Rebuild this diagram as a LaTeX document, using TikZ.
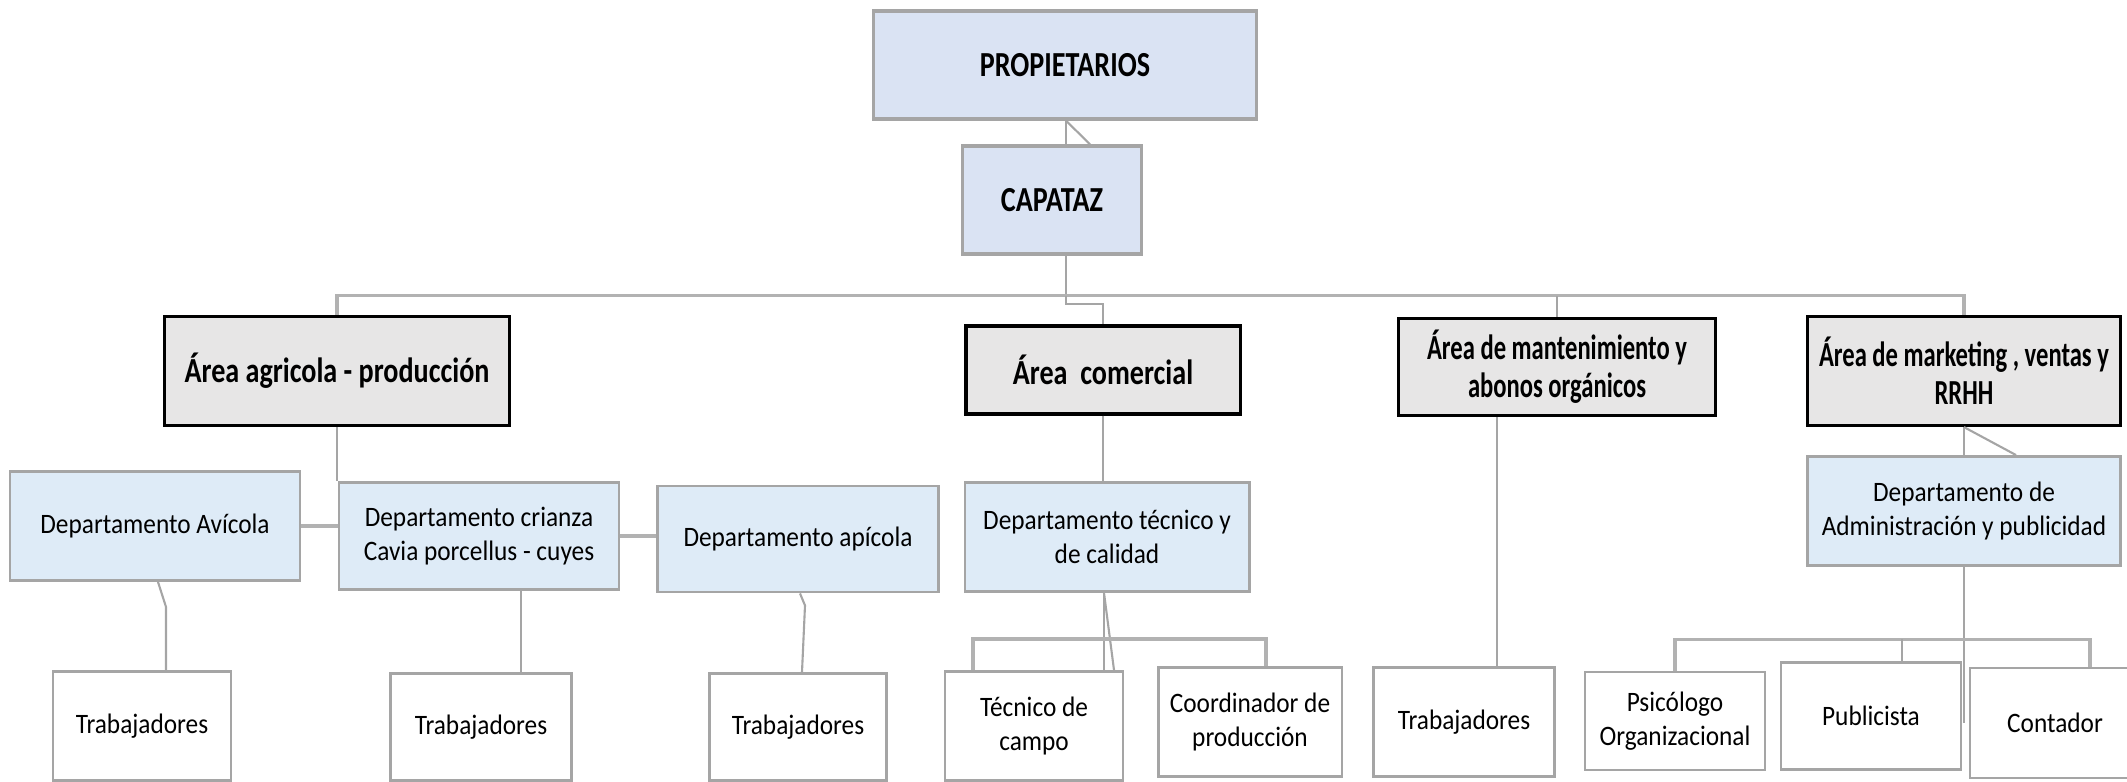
\documentclass[tikz,border=0pt]{standalone}
\usepackage{fontspec}
\setmainfont{Carlito}[FakeStretch=0.9]
\newfontfamily\titlefont{Carlito}[FakeStretch=0.8]
\newfontfamily\narrowfont{Carlito}[FakeStretch=0.7]
\usetikzlibrary{calc}

\begin{document}
\begin{tikzpicture}[x=0.01cm,y=-0.01cm,font=\fontsize{8}{9.8}\selectfont]
\definecolor{topblue}{RGB}{218,227,243}
\definecolor{deptblue}{RGB}{222,235,247}
\definecolor{areagray}{RGB}{231,230,230}
\definecolor{linegray}{RGB}{165,165,165}
\tikzset{
 boss/.style={draw=linegray,fill=topblue,line width=0.9pt,font=\titlefont\bfseries\fontsize{10}{12}\selectfont},
 area/.style={draw=black,fill=areagray,line width=0.9pt,align=center,font=\titlefont\bfseries\fontsize{10}{10.8}\selectfont},
 narrowarea/.style={area,font=\narrowfont\bfseries\fontsize{10}{10.8}\selectfont},
 dept/.style={draw=linegray,fill=deptblue,line width=0.8pt,align=center},
 staff/.style={draw=linegray,fill=white,line width=0.8pt,align=center},
 link/.style={draw=linegray,line width=0.6pt},
 bus/.style={draw=linegray!85,line width=0.9pt}
}
\useasboundingbox (0,0) rectangle (2127,782);
% direccion
\node[boss,minimum width=3.82cm,minimum height=1.08cm] (prop) at (1065,65) {PROPIETARIOS};
\node[boss,minimum width=1.79cm,minimum height=1.08cm] (capataz) at (1052,200) {CAPATAZ};
% areas
\node[area,minimum width=3.45cm,minimum height=1.09cm] (agricola) at (337,371) {Área agricola - producción};
\node[area,minimum width=2.74cm,minimum height=0.88cm] (comercial) at (1103,370) {Área~~comercial};
\node[narrowarea,minimum width=3.17cm,minimum height=0.94cm] (manten) at (1557,367) {Área de mantenimiento y\\abonos orgánicos};
\node[narrowarea,minimum width=3.12cm,minimum height=1.09cm] (marketing) at (1964,371) {Área de marketing , ventas y\\RRHH};
% departamentos
\node[dept,minimum width=2.9cm,minimum height=1.09cm] (avicola) at (155,526) {Departamento Avícola};
\node[dept,minimum width=2.8cm,minimum height=1.07cm] (cuyes) at (479,536) {Departamento crianza\\Cavia porcellus - cuyes};
\node[dept,minimum width=2.81cm,minimum height=1.06cm] (apicola) at (798,539) {Departamento apícola};
\node[dept,minimum width=2.84cm,minimum height=1.09cm] (tecnico) at (1107,537) {Departamento técnico y\\de calidad};
\node[dept,minimum width=3.13cm,minimum height=1.09cm] (admin) at (1964,511) {Departamento de\\Administración y publicidad};
% personal
\node[staff,minimum width=1.78cm,minimum height=1.09cm] (trabA) at (142,726) {Trabajadores};
\node[staff,minimum width=1.81cm,minimum height=1.07cm] (trabB) at (481,727) {Trabajadores};
\node[staff,minimum width=1.77cm,minimum height=1.07cm] (trabC) at (798,727) {Trabajadores};
\node[staff,minimum width=1.78cm,minimum height=1.09cm] (campo) at (1034,726) {Técnico de\\campo};
\node[staff,minimum width=1.78cm,minimum height=1.09cm] (coord) at (1250,722) {Coordinador de\\producción};
\node[staff,minimum width=1.81cm,minimum height=1.09cm] (trabD) at (1464,722) {Trabajadores};
\node[staff,minimum width=1.8cm,minimum height=0.98cm] (psico) at (1675,721) {Psicólogo\\Organizacional};
\node[staff,minimum width=1.8cm,minimum height=1.07cm] (publi) at (1871,716) {Publicista};
\node[staff,minimum width=1.7cm,minimum height=1.1cm] (contador) at (2055,723) {Contador};
% conectores superiores
\draw[link] ($(prop.south)+(1,0)$) -- ($(capataz.north)+(14,0)$);
\draw[link] ($(prop.south)+(1,0)$) -- ($(capataz.north)+(38,0)$);
\coordinate (hub) at ($(capataz.south)+(14,40)$);
\draw[link] ($(capataz.south)+(14,0)$) -- (hub);
\draw[bus] (agricola.north) |- (hub) -| (marketing.north);
\draw[link] (manten.north) -- (manten.north |- hub);
\draw[link] (hub) -- ++(0,8) -| (comercial.north);
% areas a departamentos
\draw[link] (agricola.south) -- (agricola.south |- cuyes.north);
\draw[bus] (avicola.east) -- (avicola.east -| cuyes.west);
\draw[bus] (cuyes.east) -- (cuyes.east -| apicola.west);
\draw[link] (comercial.south) -- (comercial.south |- tecnico.north);
\draw[link] (marketing.south) -- (marketing.south |- admin.north);
\draw[link] (marketing.south) -- ($(admin.north)+(52,0)$);
% departamentos a personal
\draw[link] ($(avicola.south)+(3,0)$) -- ++(8,25) -- ($(trabA.north)+(24,0)$);
\draw[link] ($(cuyes.south)+(42,0)$) -- ($(trabB.north)+(40,0)$);
\draw[link] ($(apicola.south)+(2,0)$) -- ++(5,12) -- ($(trabC.north)+(4,0)$);
\draw[link] ($(tecnico.south)+(-3,0)$) -- ($(campo.north)+(70,0)$);
\draw[link] ($(tecnico.south)+(-3,0)$) -- ($(campo.north)+(80,0)$);
\draw[bus] ($(campo.north)+(-61,0)$) |- ($(coord.north)+(16,-27)$) -- ($(coord.north)+(16,0)$);
\draw[link] ($(manten.south)+(-60,0)$) -- ($(trabD.north)+(33,0)$);
\draw[link] (admin.south) -- (admin.south |- contador.west);
\draw[bus] (psico.north) -- ++(0,-31) -| ($(contador.north)+(35,0)$);
\draw[link] ($(publi.north)+(31,-22)$) -- ($(publi.north)+(31,0)$);
\end{tikzpicture}
\end{document}
